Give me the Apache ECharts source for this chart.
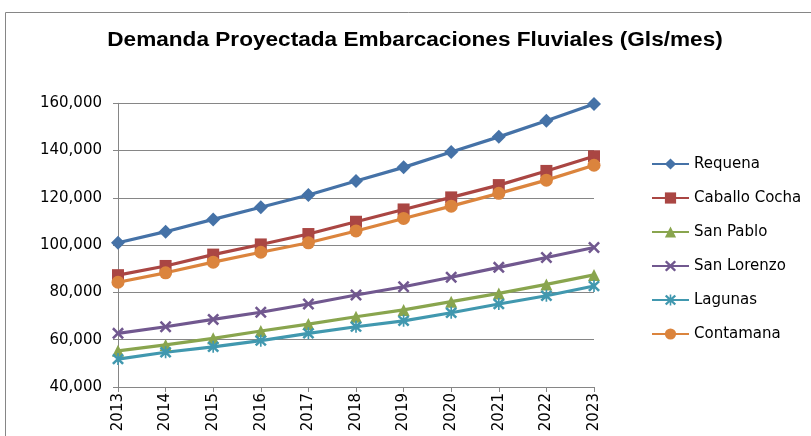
<!DOCTYPE html>
<html><head><meta charset="utf-8">
<script src="https://cdn.jsdelivr.net/npm/echarts@6/dist/echarts.min.js"></script>
<style>html,body{margin:0;padding:0;background:#fff}#c{width:811px;height:436px}</style>
</head><body><div id="c"></div>
<script>
const years = ['2013','2014','2015','2016','2017','2018','2019','2020','2021','2022','2023'];
const requena = [101000,105700,110900,116000,121200,127100,132900,139400,145800,152600,159700];
const caballoCocha = [87300,91200,96000,100300,104700,109900,115100,120200,125400,131400,137600];
const sanPablo = [55300,57800,60600,63700,66600,69700,72600,76100,79600,83400,87400];
const sanLorenzo = [62700,65500,68600,71600,75100,78900,82400,86400,90600,94800,99000];
const lagunas = [51800,54700,57000,59600,62700,65500,68000,71400,75100,78600,82700];
const contamana = [84300,88300,92800,97000,101000,106000,111300,116500,121900,127500,133800];
const yTicks = {min:40000, max:160000, interval:20000};
const titleText = 'Demanda Proyectada Embarcaciones Fluviales (Gls/mes)';

const xSym = 'path://M0,1.5L1.5,0L5,3.5L8.5,0L10,1.5L6.5,5L10,8.5L8.5,10L5,6.5L1.5,10L0,8.5L3.5,5Z';
const starSym = 'path://M0,1.8L1.5,0.3L5,3.8L8.5,0.3L10,1.8L6.5,5.3L10,8.8L8.5,10.3L5,6.8L1.5,10.3L0,8.8L3.5,5.3Z M4.3,0L5.7,0L5.7,10.6L4.3,10.6Z';

function s(name, data, color, symbol, size){
  return {name, type:'line', data, symbol, symbolSize:size, showSymbol:true,
    lineStyle:{color, width:3.2}, itemStyle:{color, opacity:1}, emphasis:{disabled:true}, animation:false, z: 2};
}
const font = '"DejaVu Sans", sans-serif';
const chart = echarts.init(document.getElementById('c'), null, {renderer:'canvas'});
chart.setOption({
  backgroundColor:'#fff',
  animation:false,
  graphic:[
    {type:'rect', shape:{x:5.5, y:12.5, width:900, height:600}, style:{fill:'none', stroke:'#868686', lineWidth:1}, silent:true},
    {type:'text', x:415, y:40, originX:0, originY:0, scaleX:1.13, silent:true,
      style:{text:titleText, fontFamily:'"Liberation Sans", Arial, sans-serif', fontWeight:'bold', fontSize:20, fill:'#000', align:'center', verticalAlign:'middle'}}
  ],
  grid:{left:118, right:217, top:103.3, bottom:49, containLabel:false},
  legend:{orient:'vertical', left:646, top:151.5, itemWidth:37, itemHeight:14, itemGap:19,
    textStyle:{fontFamily:font, fontSize:15, color:'#000'},
    data:['Requena','Caballo Cocha','San Pablo','San Lorenzo','Lagunas','Contamana']},
  xAxis:{type:'category', data:years, boundaryGap:false,
    axisLine:{lineStyle:{color:'#868686', width:1}},
    axisTick:{show:true, alignWithLabel:true, length:5, lineStyle:{color:'#868686'}},
    axisLabel:{rotate:90, margin:6, fontFamily:font, fontSize:15, color:'#000'},
    splitLine:{show:false}},
  yAxis:{type:'value', min:yTicks.min, max:yTicks.max, interval:yTicks.interval,
    axisLine:{show:true, lineStyle:{color:'#868686', width:1}},
    axisTick:{show:true, length:5, lineStyle:{color:'#868686'}},
    axisLabel:{margin:16, fontFamily:font, fontSize:15, color:'#000',
      formatter:v=>v.toLocaleString('en-US')},
    splitLine:{show:true, lineStyle:{color:'#868686', width:1}}},
  series:[
    s('Requena', requena, '#4572A7', 'diamond', 14),
    s('Caballo Cocha', caballoCocha, '#AA4643', 'rect', 12),
    s('San Pablo', sanPablo, '#89A54E', 'triangle', 12),
    s('San Lorenzo', sanLorenzo, '#71588F', xSym, 12),
    s('Lagunas', lagunas, '#4198AF', starSym, 12),
    s('Contamana', contamana, '#DB843D', 'circle', 13)
  ]
});
</script></body></html>
